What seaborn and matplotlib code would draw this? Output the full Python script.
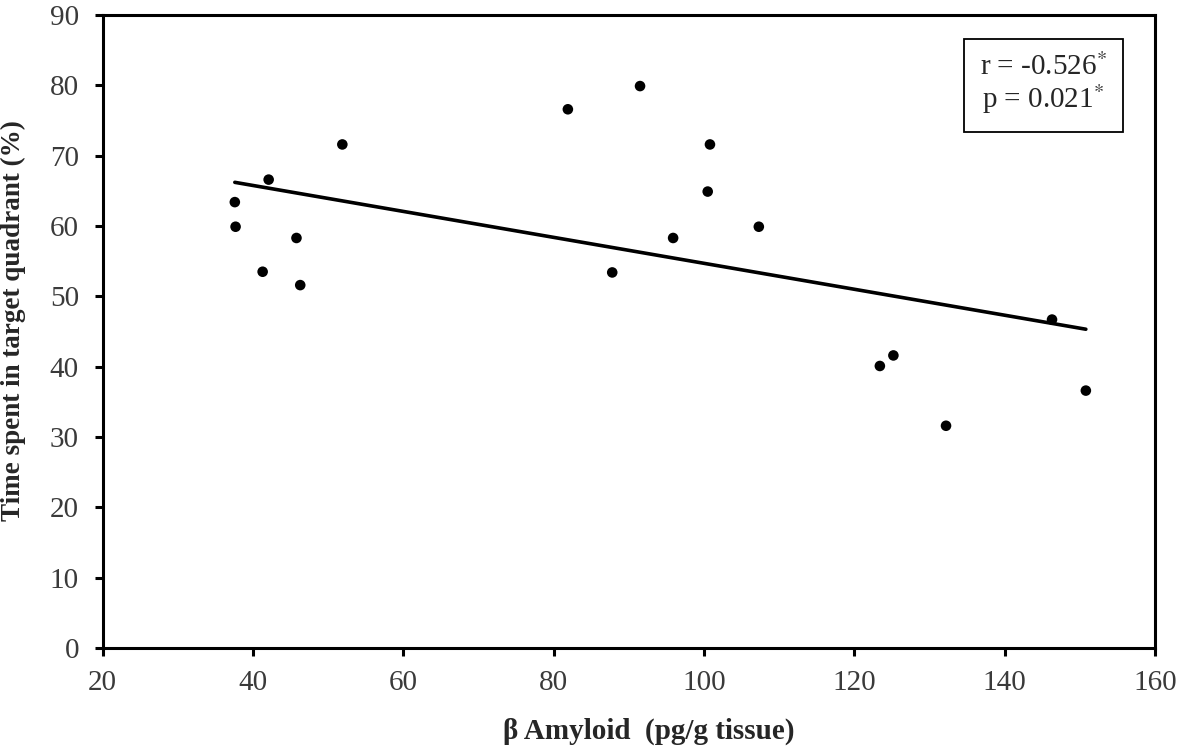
import matplotlib
matplotlib.use("Agg")
import seaborn as sns
import matplotlib.pyplot as plt
import pandas as pd

# values
amyloid = [37.6, 37.7, 41.3, 42.1, 45.8, 46.3, 51.9, 81.9, 87.8, 91.5,
           95.9, 100.5, 100.8, 107.3, 123.4, 125.2, 132.2, 146.3, 150.8]
time_pct = [63.4, 59.9, 53.5, 66.6, 58.3, 51.6, 71.6, 76.6, 53.4, 79.9,
            58.3, 64.9, 71.6, 59.9, 40.1, 41.6, 31.6, 46.7, 36.6]

x_ticks = [20, 40, 60, 80, 100, 120, 140, 160]
y_ticks = [0, 10, 20, 30, 40, 50, 60, 70, 80, 90]
stats_text = "r = -0.526$^{*}$\np = 0.021$^{*}$"

df = pd.DataFrame({"amyloid": amyloid, "time": time_pct})

sns.set_style("ticks")
plt.rcParams['font.family'] = ['Liberation Serif', 'DejaVu Serif']
plt.rcParams['mathtext.fontset'] = 'stix'

fig = plt.figure(figsize=(11.81, 7.52), dpi=100)
ax = fig.add_axes([0.0868, 0.1383, 0.8912, 0.8417])

sns.regplot(data=df, x="amyloid", y="time", ci=None, ax=ax,
            scatter_kws=dict(s=58, color="black", edgecolor="none",
                             alpha=1, zorder=3),
            line_kws=dict(color="black", linewidth=2.6))

ax.set_xlim(20, 160)
ax.set_ylim(0, 90)
ax.set_xticks(x_ticks)
ax.set_yticks(y_ticks)

for sp in ax.spines.values():
    sp.set_visible(True)
    sp.set_linewidth(2.2)
    sp.set_color("black")

ax.tick_params(direction="out", length=6, width=2.2, labelsize=21,
               labelcolor="#3a3a3a", color="black")
ax.tick_params(axis="x", pad=10)
ax.tick_params(axis="y", pad=11)

ax.set_xlabel("β Amyloid  (pg/g tissue)", fontsize=21, fontweight="bold")
ax.set_ylabel("Time spent in target quadrant (%)", fontsize=19.5,
              fontweight="bold")
ax.xaxis.set_label_coords(0.519, -0.11)
ax.yaxis.set_label_coords(-0.073, 0.518)

ax.text(0.894, 0.89, stats_text, transform=ax.transAxes, ha="center",
        va="center", fontsize=21, linespacing=1.05,
        bbox=dict(boxstyle="square,pad=0.55", facecolor="white",
                  edgecolor="black", linewidth=1.3))

plt.savefig("out.png", dpi=100)
